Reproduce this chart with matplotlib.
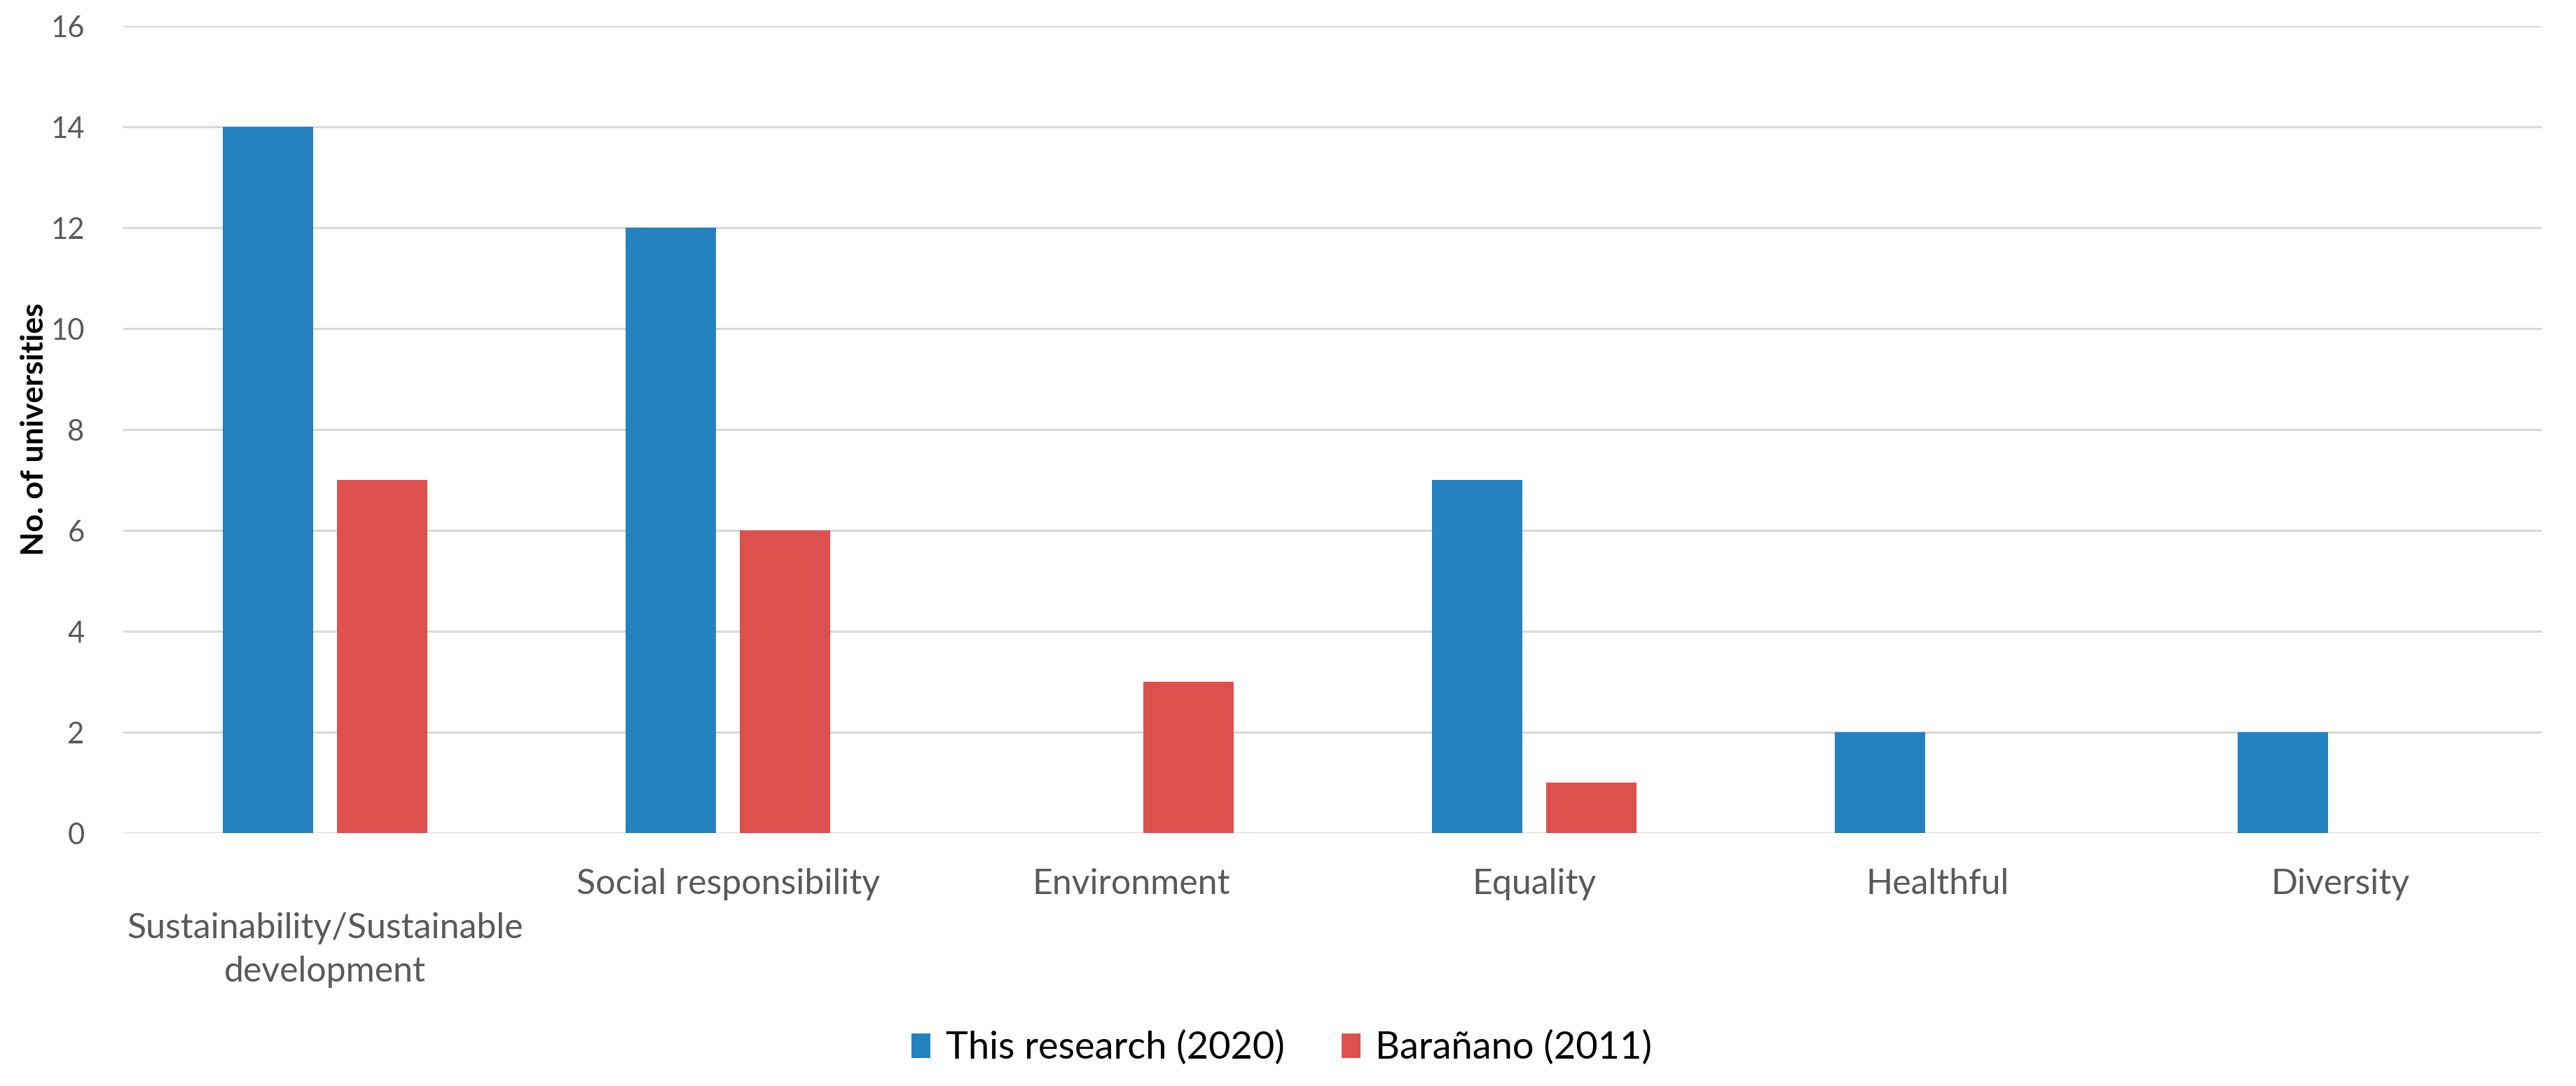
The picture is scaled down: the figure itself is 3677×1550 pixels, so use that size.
import matplotlib
matplotlib.use('Agg')
import matplotlib.pyplot as plt
import numpy as np

plt.rcParams['font.family'] = ['Lato', 'DejaVu Sans']

# Data
categories = ['\nSustainability/Sustainable\ndevelopment', 'Social responsibility',
              'Environment', 'Equality', 'Healthful', 'Diversity']
this_research = [14, 12, 0, 7, 2, 2]
baranano = [7, 6, 3, 1, 0, 0]
series_names = ['This research (2020)', 'Barañano (2011)']
y_ticks = [0, 2, 4, 6, 8, 10, 12, 14, 16]

blue = '#2482C0'
red = '#DE504E'

fig = plt.figure(figsize=(36.77, 15.5), dpi=100)
ax = fig.add_axes([0.0479, 0.2329, 0.9388, 0.7432])

x = np.arange(len(categories))
width = 0.224
ax.bar(x - 0.142, this_research, width, color=blue, label=series_names[0], zorder=3)
ax.bar(x + 0.142, baranano, width, color=red, label=series_names[1], zorder=3)

ax.set_xlim(-0.5, len(categories) - 0.5)
ax.set_ylim(0, 16)
ax.set_yticks(y_ticks)
ax.set_xticks(x)
ax.set_xticklabels(categories, fontsize=36, color='#595959', linespacing=1.45)
ax.tick_params(axis='y', labelsize=30, labelcolor='#595959', length=0, pad=40)
ax.tick_params(axis='x', length=0, pad=36)

ax.grid(axis='y', color='#D9D9D9', linewidth=2.2, zorder=0)
for s in ax.spines.values():
    s.set_visible(False)

ax.set_ylabel('No. of universities', fontsize=32, fontweight='bold', color='black', labelpad=2)

ax.legend(loc='lower center', bbox_to_anchor=(0.479, -0.33), ncol=2, frameon=False,
          fontsize=39, handlelength=0.5, handleheight=0.6, handletextpad=0.4,
          columnspacing=1.5)

fig.savefig('out.png', dpi=100, facecolor='white')
